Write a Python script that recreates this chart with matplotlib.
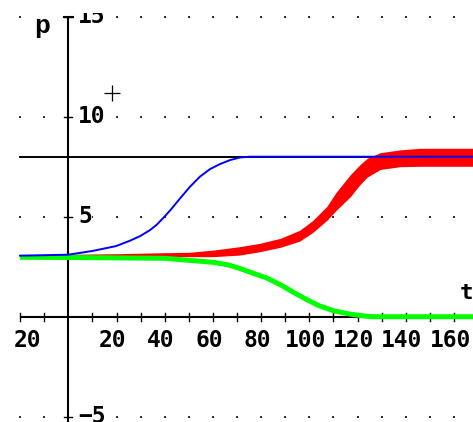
import numpy as np
import matplotlib
matplotlib.use("Agg")
import matplotlib.pyplot as plt
from matplotlib.patches import Rectangle

# values
blue_t = [-20, 0, 9.7, 19.8, 25.6, 29.8, 33.9, 36.7, 39.5, 42.5, 46.4, 50.5, 54.6, 58.8, 62.9, 67.1, 71.2, 75.4, 168]
blue_p = [3.05, 3.1, 3.28, 3.53, 3.8, 4.03, 4.33, 4.6, 4.95, 5.35, 5.92, 6.5, 7.0, 7.38, 7.63, 7.83, 7.96, 8.0, 8.0]

red_t = [0, 20, 40, 50, 60, 71, 79.5, 88, 96, 101.5, 107.3, 111, 117, 121, 124, 129.4, 137.6, 146, 168]
red_lo = [3.02, 3.02, 3.02, 3.0, 3.0, 3.08, 3.25, 3.47, 3.78, 4.22, 4.82, 5.3, 6.0, 6.6, 6.98, 7.36, 7.5, 7.52, 7.52]
red_hi = [3.12, 3.15, 3.2, 3.22, 3.33, 3.5, 3.67, 3.92, 4.32, 4.82, 5.52, 6.2, 7.1, 7.6, 7.92, 8.2, 8.34, 8.42, 8.42]

green_t = [-20, 0, 20, 40, 50, 60, 66, 71, 76, 82, 88, 93, 99, 104, 110, 116, 121, 126, 168]
green_p = [2.97, 2.96, 2.94, 2.92, 2.82, 2.72, 2.6, 2.42, 2.2, 1.95, 1.6, 1.25, 0.85, 0.55, 0.3, 0.15, 0.06, 0.0, 0.0]

eq_level = 8
mark_t, mark_p = [18.2], [11.18]

xticks = [-20, -10, 10, 20, 30, 40, 50, 60, 70, 80, 90, 100, 110, 120, 130, 140, 150, 160]
xlabels = [(-20, "20"), (20, "20"), (40, "40"), (60, "60"), (80, "80"),
           (100, "100"), (120, "120"), (140, "140"), (160, "160")]
yticks = [15, 10, 5, -5]
ylabels = [(15, "15"), (10, "10"), (5, "5"), (-5, "\u22125")]

fig = plt.figure(figsize=(4.73, 4.22), dpi=100)
ax = fig.add_axes([0, 0, 1, 1])
ax.set_xlim(-28.34, 167.9)
ax.set_ylim(-5.265, 15.835)
ax.axis("off")

# dotted grid
gt, gp = np.meshgrid(np.arange(-20, 161, 10), [-5, 5, 10, 15])
ax.plot(gt.ravel(), gp.ravel(), ls="none", marker="s", ms=1.5, color="#333333", mew=0, zorder=1)

# axes
ax.plot([-20, 168], [0, 0], color="black", lw=1.5, zorder=2, solid_capstyle="butt")
ax.plot([0, 0], [-5.4, 15], color="black", lw=1.5, zorder=2, solid_capstyle="butt")
ax.plot([-1.9, 1.9], [15, 15], color="black", lw=1.5, zorder=2)
for t in xticks:
    ax.plot([t, t], [-0.2, 0.2], color="black", lw=1.0, zorder=2)
for p in yticks:
    ax.plot([-1.7, 1.7], [p, p], color="black", lw=1.0, zorder=2)

ax.plot([-20, 168], [eq_level, eq_level], color="black", lw=1.4, zorder=2)

ax.fill_between(red_t, red_lo, red_hi, color="#ff0000", lw=0, zorder=3)
ax.plot(green_t, green_p, color="#00ff00", lw=3.6, zorder=4, solid_capstyle="butt")
ax.plot(blue_t, blue_p, color="#0000ff", lw=1.4, zorder=5)

ax.plot(mark_t, mark_p, ls="none", marker="+", ms=11, mew=0.9, color="black", zorder=6)

font = dict(family="DejaVu Sans Mono", weight="bold", fontsize=16.5, color="black")
box = dict(facecolor="white", edgecolor="none", pad=0)
for t, s in xlabels:
    x = -16.9 if t < 0 else t - 1.6
    ax.text(x, -1.19, s, ha="center", va="center", zorder=7, bbox=box, **font)

clip = Rectangle((-30, -6), 200, 21.18, transform=ax.transData)
for p, s in ylabels:
    txt = ax.text(4.0, p, s, ha="left", va="center", zorder=7, bbox=box, **font)
    if p == 15:
        txt.set_clip_on(True)
        txt.set_clip_path(clip)

ax.text(-10.9, 14.54, "p", ha="center", va="center", zorder=7, bbox=box,
        family="Liberation Mono", weight="bold", fontsize=19, color="black")
ax.text(165.0, 1.18, "t", ha="center", va="center", zorder=7,
        family="DejaVu Sans Mono", weight="bold", fontsize=16, color="black")

fig.savefig("out.png", dpi=100, facecolor="white")
